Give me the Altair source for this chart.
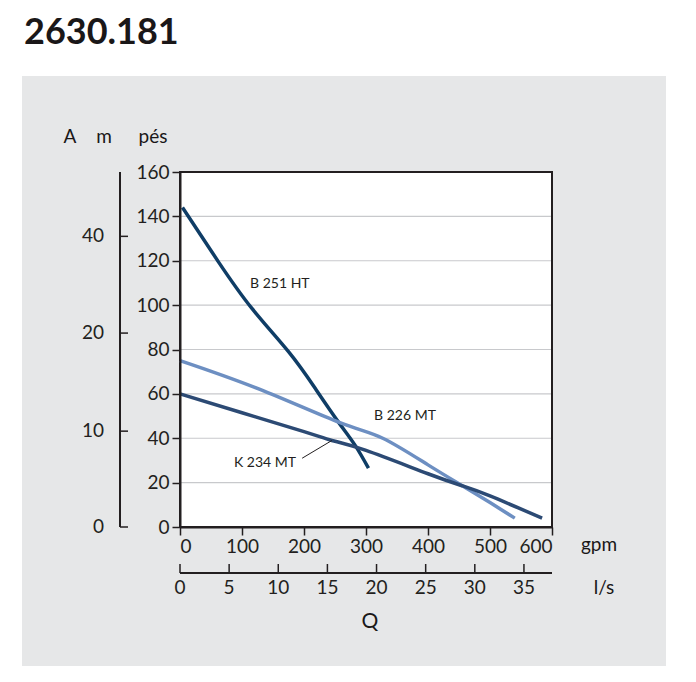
import altair as alt
import pandas as pd

title = "2630.181"
gpm_b251 = [4, 62, 116, 175, 218, 255, 282, 304]
ft_b251 = [144, 119.5, 98.5, 79, 62.5, 47.5, 37, 26.5]
gpm_b226 = [0, 129, 258, 327, 400, 456, 500, 540]
ft_b226 = [75, 62, 47, 40, 28, 18.5, 11, 4]
gpm_k234 = [0, 100, 200, 245, 300, 400, 456, 500, 584]
ft_k234 = [60, 51.5, 43, 39, 34.5, 24, 18.5, 14, 4]
ft_ticks = [20, 40, 60, 80, 100, 120, 140]
m_labels = [0, 10, 20, 40]
m_pos_ft = [0, 43.2, 87.4, 131]
ls_labels = [0, 5, 10, 15, 20, 25, 30, 35]
GPM_PER_LS = 15.85

FONT = "Lato"
TXT = "#231f20"
c_b251 = "#0f3d66"
c_b226 = "#6d8fc2"
c_k234 = "#2c4a74"

rows = []
for n, xs_, ys_ in [("B 251 HT", gpm_b251, ft_b251), ("B 226 MT", gpm_b226, ft_b226), ("K 234 MT", gpm_k234, ft_k234)]:
    for i, (a, b) in enumerate(zip(xs_, ys_)):
        rows.append({"name": n, "gpm": a, "ft": b, "o": i})
curves = pd.DataFrame(rows)

xs = alt.Scale(domain=[0, 600], nice=False, zero=True)
ys = alt.Scale(domain=[0, 160], nice=False)

W, H = 372, 355
bg = alt.Chart(pd.DataFrame({"a": [0]})).mark_rect(color="#e6e7e8").encode(
    x=alt.value(-158), x2=alt.value(486), y=alt.value(-96), y2=alt.value(494))
white = alt.Chart(pd.DataFrame({"a": [0]})).mark_rect(fill="white", stroke=TXT, strokeWidth=2).encode(
    x=alt.value(0), x2=alt.value(W), y=alt.value(0), y2=alt.value(H))

grid = alt.Chart(pd.DataFrame({"ft": ft_ticks})).mark_rule(color="#c8c9cc", strokeWidth=1.2).encode(
    y=alt.Y("ft:Q", scale=ys), x=alt.value(1), x2=alt.value(W - 1))

lines = alt.Chart(curves).mark_line(strokeWidth=3.5, interpolate="natural").encode(
    x=alt.X("gpm:Q", scale=xs, axis=alt.Axis(values=[0, 100, 200, 300, 400, 500, 600], title=None,
            labelFontSize=19, labelFont=FONT, labelColor=TXT, tickColor=TXT, tickSize=8, tickWidth=1.5,
            domainColor=TXT, domainWidth=2, labelPadding=2, grid=False, zindex=1)),
    y=alt.Y("ft:Q", scale=ys, axis=alt.Axis(values=[0] + ft_ticks + [160], title=None,
            labelFontSize=19, labelFont=FONT, labelColor=TXT, tickColor=TXT, tickSize=8, tickWidth=1.5,
            domainColor=TXT, domainWidth=2, labelPadding=3, grid=False, zindex=1)),
    color=alt.Color("name:N", scale=alt.Scale(domain=["B 251 HT", "B 226 MT", "K 234 MT"],
                    range=[c_b251, c_b226, c_k234]), legend=None),
    order="o:Q")

lbl = pd.DataFrame({"t": ["B 251 HT", "B 226 MT", "K 234 MT"], "gpm": [113, 313, 87], "ft": [109.5, 50, 29]})
labels = alt.Chart(lbl).mark_text(align="left", fontSize=14, font=FONT, color=TXT).encode(
    x=alt.X("gpm:Q", scale=xs), y=alt.Y("ft:Q", scale=ys), text="t:N")
arrow = alt.Chart(pd.DataFrame({"gpm": [197], "ft": [31], "gpm2": [245], "ft2": [39]})).mark_rule(color=TXT, strokeWidth=1).encode(
    x=alt.X("gpm:Q", scale=xs), y=alt.Y("ft:Q", scale=ys), x2="gpm2:Q", y2="ft2:Q")

m_df = pd.DataFrame({"m": m_labels, "ft": m_pos_ft})
m_rule = alt.Chart(pd.DataFrame({"a": [0]})).mark_rule(color=TXT, strokeWidth=2).encode(
    x=alt.value(-60), y=alt.value(0), y2=alt.value(H))
m_ticks = alt.Chart(m_df).mark_rule(color=TXT, strokeWidth=1.5).encode(
    y=alt.Y("ft:Q", scale=ys), x=alt.value(-60), x2=alt.value(-52))
m_text = alt.Chart(m_df).mark_text(align="right", baseline="middle", fontSize=19, font=FONT, color=TXT).encode(
    y=alt.Y("ft:Q", scale=ys), x=alt.value(-76), text="m:Q")

ls_df = pd.DataFrame({"ls": ls_labels, "gpm": [v * GPM_PER_LS for v in ls_labels]})
ls_rule = alt.Chart(pd.DataFrame({"a": [0]})).mark_rule(color=TXT, strokeWidth=2).encode(
    x=alt.value(0), x2=alt.value(W), y=alt.value(401))
ls_ticks = alt.Chart(ls_df).mark_rule(color=TXT, strokeWidth=1.5).encode(
    x=alt.X("gpm:Q", scale=xs), y=alt.value(392), y2=alt.value(401))
ls_text = alt.Chart(ls_df).mark_text(baseline="middle", fontSize=19, font=FONT, color=TXT).encode(
    x=alt.X("gpm:Q", scale=xs), y=alt.value(416), text="ls:Q")

txt = pd.DataFrame({
    "t": [title, "A", "m", "pés", "gpm", "l/s", "Q"],
    "x": [-156, -110, -76, -27, 419, 424, 190],
    "y": [-139, -35, -35, -35, 373, 416, 450],
    "s": [36, 19, 19, 19, 19, 19, 21],
    "w": ["bold", "normal", "normal", "normal", "normal", "normal", "normal"],
    "al": ["left", "center", "center", "center", "center", "center", "center"],
})
texts = []
for _, r in txt.iterrows():
    texts.append(alt.Chart(pd.DataFrame([r])).mark_text(
        align=r["al"], baseline="middle", fontSize=int(r["s"]), fontWeight=r["w"],
        font=FONT, color="#1a1718").encode(x=alt.value(int(r["x"])), y=alt.value(int(r["y"])), text="t:N"))

chart = alt.layer(bg, white, grid, lines, labels, arrow, m_rule, m_ticks, m_text,
                  ls_rule, ls_ticks, ls_text, *texts).properties(
    width=W, height=H, autosize=alt.AutoSizeParams(type="none"),
    padding={"left": 172, "top": 164, "right": 136, "bottom": 147},
).configure_view(stroke=None).configure(background="white")

chart.save("out.html", embed_options={"renderer": "svg", "actions": False})
